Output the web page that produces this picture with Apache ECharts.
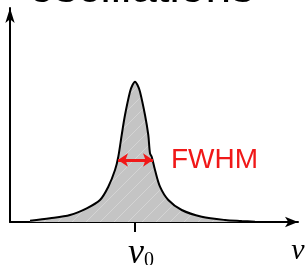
<!DOCTYPE html>
<html>
<head>
<meta charset="utf-8">
<script src="https://cdn.jsdelivr.net/npm/echarts@6/dist/echarts.min.js"></script>
<style>
  html, body { margin: 0; padding: 0; background: #fff; }
  #chart { width: 307px; height: 265px; }
</style>
</head>
<body>
<div id="chart"></div>
<script>
// line profile (x = frequency, y = intensity)
const freq = [20, 40, 60, 76.7, 90, 98.3, 105, 108.3, 111.7, 115, 120, 122.5, 125, 127.5, 130, 135, 138.3, 140, 141.7, 145, 150, 158.3, 171.7, 191.7, 215, 231.7, 245]
const intensity = [1.3, 3.7, 7, 13.7, 22, 35.3, 52, 65.3, 87, 107, 130.3, 137, 140.3, 137, 130.3, 107, 87, 68.7, 65.3, 52, 35.3, 22, 12, 5.3, 2, 1, 0.3]
const centerFreq = 125
const halfMax = 62
const fwhmEnds = [108, 143]
const axisEnd = 288

// grey hatched fill
function hatch () {
  let c = document.createElement('canvas')
  c.width = 14
  c.height = 14
  let ctx = c.getContext('2d')
  ctx.fillStyle = '#c4c4c4'
  ctx.fillRect(0, 0, 14, 14)
  ctx.strokeStyle = '#d4d4d4'
  ctx.lineWidth = 1
  ctx.beginPath()
  ctx.moveTo(0, 14)
  ctx.lineTo(14, 0)
  ctx.stroke()
  return c
}

let chart = echarts.init(document.getElementById('chart'))
let option = {
  animation: false,
  title: {
    text: 'oscillations',
    left: 24,
    top: -39,
    textStyle: {
      fontFamily: 'Liberation Sans',
      fontSize: 46,
      fontWeight: 'normal',
      color: '#000'
    }
  },
  grid: { left: 10, right: 9, top: 8, bottom: 43, outerBoundsMode: 'none', containLabel: false },
  xAxis: [
    {
      type: 'value',
      min: 0,
      max: axisEnd,
      splitLine: { show: false },
      axisLine: {
        lineStyle: { color: '#000', width: 2 },
        symbol: ['none', 'arrow'],
        symbolSize: [8, 13]
      },
      axisTick: {
        customValues: [centerFreq],
        length: 10,
        lineStyle: { color: '#000', width: 2 }
      },
      axisLabel: {
        customValues: [centerFreq, axisEnd],
        showMaxLabel: true,
        margin: 14,
        formatter: function (v) {
          return v === centerFreq ? '{v|v}{s|0}' : '{w|v}'
        },
        rich: {
          v: { fontFamily: 'Liberation Serif', fontStyle: 'italic', fontSize: 36, color: '#000', padding: [0, 0, 0, 12] },
          s: { fontFamily: 'Liberation Serif', fontSize: 20, color: '#000', padding: [14, 0, 0, 0] },
          w: { fontFamily: 'Liberation Serif', fontStyle: 'italic', fontSize: 30, color: '#000' }
        }
      }
    },
    {
      type: 'value',
      min: 0,
      max: axisEnd,
      position: 'bottom',
      splitLine: { show: false },
      axisLine: { show: false },
      axisLabel: { show: false },
      axisTick: {
        customValues: [centerFreq],
        inside: true,
        length: 10,
        lineStyle: { color: '#000', width: 2 }
      }
    }
  ],
  yAxis: {
    type: 'value',
    min: 0,
    max: 214,
    splitLine: { show: false },
    axisTick: { show: false },
    axisLabel: { show: false },
    axisLine: {
      show: true,
      lineStyle: { color: '#000', width: 2 },
      symbol: ['none', 'arrow'],
      symbolSize: [7, 15]
    }
  },
  series: [
    {
      type: 'line',
      data: freq.map((f, i) => [f, intensity[i]]),
      smooth: 0.3,
      showSymbol: false,
      lineStyle: { color: '#000', width: 2 },
      areaStyle: { color: { image: hatch(), repeat: 'repeat' }, opacity: 1 },
      markLine: {
        silent: true,
        symbol: ['arrow', 'arrow'],
        symbolSize: [10, 10],
        lineStyle: { color: '#f01818', width: 3, type: 'solid' },
        label: {
          show: true,
          position: 'end',
          distance: 18,
          formatter: 'FWHM',
          color: '#f01818',
          fontFamily: 'Liberation Sans',
          fontSize: 28
        },
        data: [[{ coord: [fwhmEnds[0], halfMax] }, { coord: [fwhmEnds[1], halfMax] }]]
      }
    }
  ]
}
chart.setOption(option)
</script>
</body>
</html>
